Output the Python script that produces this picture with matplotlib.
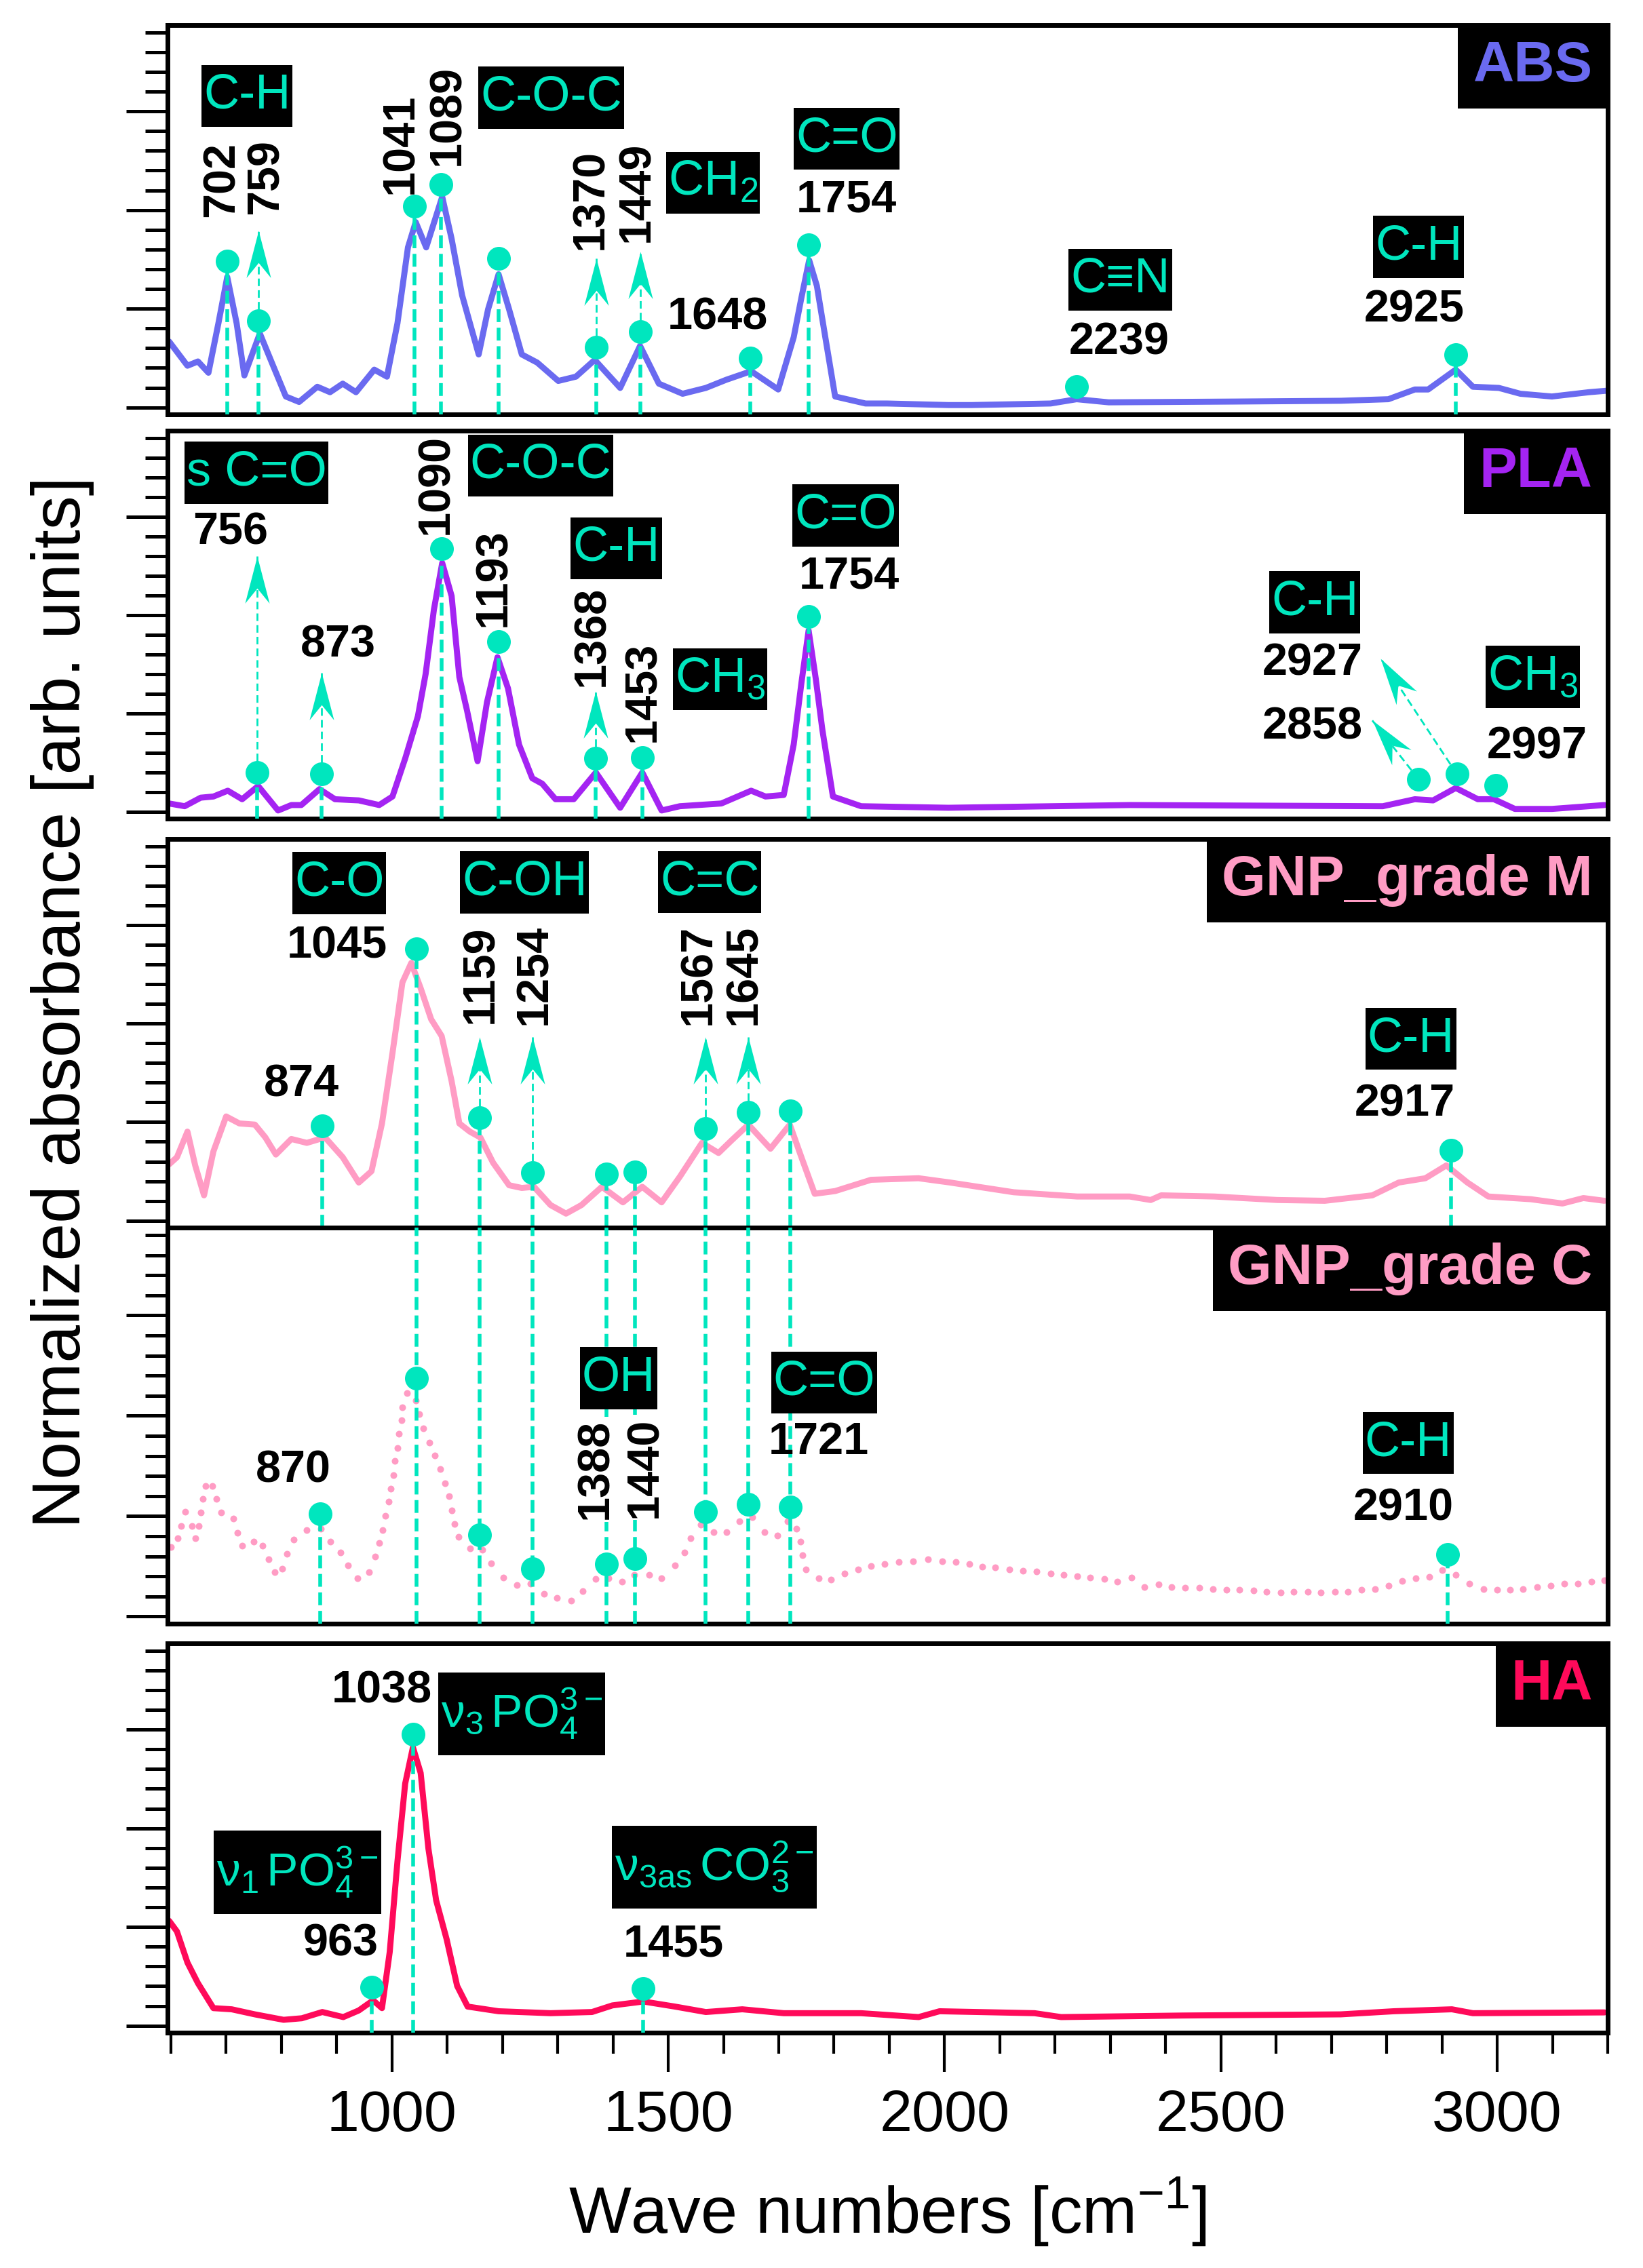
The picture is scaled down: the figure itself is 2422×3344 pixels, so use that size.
import numpy as np
import matplotlib
matplotlib.use("Agg")
import matplotlib.pyplot as plt
from matplotlib.markers import MarkerStyle
from matplotlib.path import Path
from matplotlib.transforms import Affine2D
from matplotlib.ticker import MultipleLocator

plt.rcParams['font.family'] = ['Liberation Sans', 'DejaVu Sans']
plt.rcParams['mathtext.fontset'] = 'custom'
plt.rcParams['mathtext.rm'] = 'Liberation Sans'
plt.rcParams['mathtext.it'] = 'Liberation Sans:italic'
plt.rcParams['mathtext.bf'] = 'Liberation Sans:bold'

# ---------------- spectra (wave number, normalized absorbance as panel fraction)
abs_pts = [(597, 0.187), (630, 0.125), (649, 0.136), (668, 0.107), (686, 0.234), (702, 0.353),
           (719, 0.234), (733, 0.100), (761, 0.208), (785, 0.125), (808, 0.046), (832, 0.032),
           (865, 0.071), (888, 0.057), (911, 0.079), (935, 0.057), (968, 0.115), (991, 0.097),
           (1010, 0.234), (1029, 0.429), (1043, 0.494), (1062, 0.429), (1091, 0.559), (1108, 0.451),
           (1127, 0.306), (1157, 0.154), (1174, 0.270), (1193, 0.360), (1212, 0.270), (1235, 0.154),
           (1263, 0.133), (1301, 0.086), (1333, 0.097), (1367, 0.140), (1413, 0.068), (1449, 0.176),
           (1483, 0.079), (1526, 0.053), (1568, 0.068), (1605, 0.089), (1650, 0.111), (1699, 0.064),
           (1727, 0.198), (1741, 0.300), (1755, 0.396), (1769, 0.330), (1784, 0.200), (1802, 0.046),
           (1857, 0.028), (1896, 0.028), (2007, 0.024), (2049, 0.024), (2192, 0.028), (2239, 0.039),
           (2297, 0.031), (2526, 0.033), (2717, 0.035), (2803, 0.039), (2851, 0.064), (2875, 0.064),
           (2925, 0.115), (2956, 0.071), (3003, 0.068), (3042, 0.053), (3099, 0.046), (3166, 0.057),
           (3200, 0.061)]

pla_pts = [(597, 0.039), (625, 0.032), (654, 0.054), (677, 0.057), (703, 0.072), (729, 0.050),
           (758, 0.084), (794, 0.021), (818, 0.035), (836, 0.035), (869, 0.076), (897, 0.050),
           (940, 0.047), (977, 0.035), (1001, 0.057), (1024, 0.155), (1047, 0.264), (1061, 0.373),
           (1076, 0.539), (1091, 0.659), (1108, 0.574), (1122, 0.365), (1136, 0.278), (1155, 0.148),
           (1172, 0.300), (1191, 0.416), (1210, 0.336), (1230, 0.191), (1254, 0.104), (1272, 0.090),
           (1296, 0.050), (1329, 0.050), (1369, 0.119), (1413, 0.028), (1453, 0.119), (1488, 0.021),
           (1521, 0.032), (1596, 0.039), (1650, 0.072), (1676, 0.057), (1709, 0.061), (1727, 0.191),
           (1741, 0.350), (1754, 0.485), (1767, 0.360), (1779, 0.228), (1798, 0.057), (1849, 0.032),
           (2007, 0.028), (2335, 0.035), (2793, 0.032), (2851, 0.050), (2884, 0.047), (2925, 0.079),
           (2965, 0.050), (2994, 0.050), (3032, 0.025), (3099, 0.025), (3194, 0.035)]

gnpm_pts = [(597, 0.163), (611, 0.181), (630, 0.247), (644, 0.160), (660, 0.083), (677, 0.196),
            (700, 0.286), (724, 0.268), (752, 0.265), (771, 0.232), (790, 0.188), (818, 0.228),
            (846, 0.218), (879, 0.232), (911, 0.181), (940, 0.116), (963, 0.145), (982, 0.268),
            (1001, 0.449), (1019, 0.631), (1035, 0.681), (1052, 0.616), (1071, 0.536), (1090, 0.493),
            (1108, 0.377), (1122, 0.268), (1141, 0.247), (1160, 0.232), (1183, 0.167), (1212, 0.109),
            (1235, 0.102), (1257, 0.105), (1287, 0.058), (1315, 0.036), (1343, 0.058), (1380, 0.105),
            (1418, 0.065), (1453, 0.105), (1488, 0.065), (1521, 0.131), (1561, 0.218), (1591, 0.192),
            (1615, 0.225), (1645, 0.265), (1685, 0.203), (1720, 0.265), (1741, 0.181), (1765, 0.087),
            (1802, 0.094), (1867, 0.123), (1953, 0.127), (2010, 0.116), (2125, 0.091), (2240, 0.080),
            (2335, 0.080), (2373, 0.071), (2392, 0.083), (2488, 0.080), (2602, 0.071), (2688, 0.069),
            (2774, 0.083), (2822, 0.116), (2870, 0.127), (2908, 0.160), (2946, 0.116), (2984, 0.080),
            (3061, 0.073), (3118, 0.062), (3156, 0.076), (3194, 0.069)]

gnpc_pts = [(600, 0.194), (613, 0.215), (619, 0.247), (626, 0.283), (638, 0.247), (644, 0.215),
            (651, 0.247), (654, 0.281), (658, 0.315), (663, 0.347), (675, 0.347), (682, 0.315),
            (691, 0.281), (713, 0.265), (721, 0.229), (729, 0.197), (750, 0.208), (766, 0.197),
            (777, 0.162), (788, 0.130), (802, 0.138), (810, 0.176), (822, 0.212), (846, 0.237),
            (871, 0.240), (888, 0.208), (907, 0.180), (921, 0.147), (938, 0.115), (958, 0.130),
            (970, 0.169), (977, 0.204), (983, 0.237), (988, 0.272), (994, 0.308), (998, 0.340),
            (1003, 0.375), (1005, 0.411), (1010, 0.443), (1013, 0.479), (1017, 0.513), (1019, 0.546),
            (1027, 0.582), (1043, 0.564), (1049, 0.529), (1057, 0.493), (1068, 0.457), (1078, 0.424),
            (1088, 0.390), (1096, 0.354), (1103, 0.322), (1108, 0.286), (1113, 0.252), (1120, 0.219),
            (1141, 0.190), (1163, 0.187), (1179, 0.152), (1202, 0.117), (1226, 0.098), (1251, 0.101),
            (1275, 0.076), (1298, 0.065), (1324, 0.058), (1345, 0.083), (1368, 0.113), (1392, 0.115),
            (1416, 0.106), (1439, 0.124), (1465, 0.124), (1488, 0.115), (1512, 0.147), (1529, 0.180),
            (1540, 0.215), (1559, 0.250), (1582, 0.232), (1605, 0.232), (1629, 0.258), (1652, 0.269),
            (1674, 0.232), (1697, 0.222), (1716, 0.258), (1732, 0.240), (1739, 0.208), (1743, 0.173),
            (1749, 0.137), (1772, 0.114), (1795, 0.112), (1819, 0.126), (1843, 0.137), (1867, 0.145),
            (1891, 0.151), (1917, 0.155), (1943, 0.158), (1970, 0.162), (1996, 0.158), (2020, 0.155),
            (2045, 0.150), (2068, 0.144), (2092, 0.142), (2117, 0.137), (2142, 0.133), (2167, 0.132),
            (2192, 0.127), (2216, 0.124), (2240, 0.120), (2264, 0.117), (2289, 0.113), (2313, 0.107),
            (2338, 0.117), (2362, 0.093), (2388, 0.099), (2411, 0.093), (2435, 0.091), (2461, 0.090),
            (2486, 0.088), (2510, 0.086), (2534, 0.086), (2559, 0.084), (2583, 0.081), (2608, 0.078),
            (2632, 0.081), (2657, 0.081), (2681, 0.078), (2706, 0.081), (2730, 0.081), (2755, 0.086),
            (2779, 0.088), (2803, 0.096), (2828, 0.108), (2853, 0.115), (2877, 0.119), (2901, 0.135),
            (2925, 0.124), (2949, 0.101), (2975, 0.088), (3000, 0.085), (3023, 0.086), (3047, 0.087),
            (3072, 0.092), (3097, 0.096), (3121, 0.101), (3146, 0.101), (3171, 0.106), (3194, 0.110)]

ha_pts = [(597, 0.287), (611, 0.260), (630, 0.180), (649, 0.127), (677, 0.063), (710, 0.060),
          (752, 0.047), (804, 0.033), (837, 0.037), (874, 0.053), (912, 0.040), (940, 0.057),
          (966, 0.083), (982, 0.063), (996, 0.207), (1010, 0.440), (1024, 0.640), (1038, 0.733),
          (1052, 0.667), (1066, 0.473), (1080, 0.340), (1099, 0.240), (1118, 0.120), (1137, 0.067),
          (1193, 0.055), (1287, 0.050), (1362, 0.053), (1399, 0.070), (1455, 0.080), (1512, 0.067),
          (1568, 0.053), (1634, 0.060), (1709, 0.050), (1849, 0.050), (1953, 0.040), (1991, 0.055),
          (2163, 0.050), (2211, 0.040), (2431, 0.044), (2717, 0.047), (2813, 0.055), (2918, 0.060),
          (2956, 0.050), (3194, 0.052)]

# ---------------- peak markers (wave number, marker height)
abs_peaks = [(702, 0.393), (759, 0.241), (1041, 0.534), (1089, 0.591), (1193, 0.400), (1370, 0.172),
             (1449, 0.212), (1648, 0.144), (1754, 0.436), (2239, 0.071), (2925, 0.153)]
pla_peaks = [(756, 0.119), (873, 0.115), (1090, 0.695), (1193, 0.456), (1368, 0.155), (1453, 0.158),
             (1754, 0.521), (2858, 0.101), (2927, 0.115), (2997, 0.086)]
gnpm_peaks = [(874, 0.262), (1045, 0.718), (1159, 0.283), (1254, 0.141), (1388, 0.138), (1440, 0.143),
              (1567, 0.254), (1645, 0.297), (1721, 0.301), (2917, 0.199)]
gnpc_peaks = [(870, 0.278), (1045, 0.620), (1159, 0.224), (1254, 0.138), (1388, 0.151), (1440, 0.164),
              (1567, 0.283), (1645, 0.301), (1721, 0.295), (2910, 0.174)]
ha_peaks = [(963, 0.117), (1038, 0.767), (1455, 0.113)]

# which peaks get a dashed drop line, arrows (peak -> arrow tip)
abs_drop = [702, 759, 1041, 1089, 1193, 1370, 1449, 1648, 1754, 2925]
abs_arrows = [(759, 759, 0.472), (1370, 1370, 0.400), (1449, 1449, 0.418)]
pla_drop = [756, 873, 1090, 1193, 1368, 1453, 1754]
pla_arrows = [(756, 756, 0.677), (873, 873, 0.376), (1368, 1368, 0.329),
              (2858, 2774, 0.253), (2927, 2789, 0.413)]
gnpm_drop = [874, 1045, 1159, 1254, 1388, 1440, 1567, 1645, 1721, 2917]
gnpm_arrows = [(1159, 1159, 0.49), (1254, 1254, 0.49), (1567, 1567, 0.49), (1645, 1645, 0.49)]
shared_lines = [1045, 1159, 1254, 1388, 1440, 1567, 1645, 1721]
gnpc_drop = [870, 2910]
ha_drop = [963, 1038, 1455]

# ---------------- labels (text, x, y, kind)
abs_labels = [("C-H", 738, 0.818, "box"), ("702", 693, 0.604, "v"), ("759", 773, 0.61, "v"),
              ("1041", 1017, 0.696, "v"), ("1089", 1101, 0.768, "v"), ("C-O-C", 1288, 0.814, "box"),
              ("1370", 1360, 0.552, "v"), ("1449", 1444, 0.572, "v"), ("CH$_2$", 1581, 0.595, "box"),
              ("1648", 1589, 0.248, "n"), ("C=O", 1823, 0.708, "box"), ("1754", 1823, 0.550, "n"),
              ("C\u2261N", 2318, 0.346, "box"), ("2239", 2316, 0.183, "n"),
              ("C-H", 2858, 0.430, "box"), ("2925", 2850, 0.268, "n")]
pla_labels = [("s C=O", 755, 0.892, "box"), ("756", 708, 0.737, "n"), ("1090", 1081, 0.862, "v"),
              ("C-O-C", 1269, 0.910, "box"), ("1193", 1185, 0.621, "v"), ("C-H", 1406, 0.697, "box"),
              ("873", 903, 0.447, "n"), ("1368", 1363, 0.470, "v"), ("1453", 1455, 0.328, "v"),
              ("CH$_3$", 1594, 0.359, "box"), ("C=O", 1821, 0.781, "box"), ("1754", 1827, 0.623, "n"),
              ("C-H", 2670, 0.558, "box"), ("2927", 2666, 0.400, "n"), ("2858", 2666, 0.235, "n"),
              ("CH$_3$", 3064, 0.365, "box"), ("2997", 3072, 0.184, "n")]
gnpm_labels = [("C-O", 905, 0.887, "box"), ("1045", 901, 0.723, "n"), ("C-OH", 1240, 0.888, "box"),
               ("1159", 1162, 0.651, "v"), ("1254", 1259, 0.651, "v"), ("C=C", 1575, 0.889, "box"),
               ("1567", 1555, 0.651, "v"), ("1645", 1638, 0.651, "v"), ("874", 836, 0.368, "n"),
               ("C-H", 2844, 0.486, "box"), ("2917", 2833, 0.316, "n")]
gnpc_labels = [("870", 822, 0.386, "n"), ("OH", 1410, 0.620, "box"), ("1388", 1369, 0.390, "vw"),
               ("1440", 1458, 0.394, "vw"), ("C=O", 1782, 0.609, "box"), ("1721", 1772, 0.457, "n"),
               ("C-H", 2839, 0.456, "box"), ("2910", 2830, 0.290, "n")]
ha_labels = [("1038", 982, 0.877, "n"),
             (r"$\mathrm{\nu}_{3}\,\mathrm{PO}_{4}^{3-}$", 1235, 0.819, "bigbox"),
             (r"$\mathrm{\nu}_{1}\,\mathrm{PO}_{4}^{3-}$", 829, 0.412, "bigbox"), ("963", 907, 0.227, "n"),
             (r"$\mathrm{\nu}_{\mathrm{3as}}\,\mathrm{CO}_{3}^{2-}$", 1583, 0.425, "bigbox"),
             ("1455", 1509, 0.225, "n")]

# ---------------- styling
CYAN = "#00E6BE"
C_ABS, C_PLA, C_GNP, C_HA = "#6A6AF0", "#A424F2", "#FF9CC4", "#FF0A5A"

W, H = 2422, 3344
L_PX, R_PX = 247, 2370
XMIN, XMAX = 594, 3200
LW = 3.2

fig = plt.figure(figsize=(W / 200, H / 200), dpi=200)
fig.patch.set_facecolor("white")

head = Path([(0, 0), (-0.26, -1), (0, -0.68), (0.26, -1), (0, 0)],
            [Path.MOVETO, Path.LINETO, Path.LINETO, Path.LINETO, Path.CLOSEPOLY])


def tallbox(padx, pady):
    # rectangle box with separate horizontal / vertical padding (fractions of font size)
    def style(x0, y0, width, height, mutation_size):
        px, py = padx * mutation_size, pady * mutation_size
        x1, y1 = x0 + width + px, y0 + height + py
        x0, y0 = x0 - px, y0 - py
        return Path([(x0, y0), (x1, y0), (x1, y1), (x0, y1), (x0, y0)], closed=True)
    return style


def panel(top, bot):
    ax = fig.add_axes([L_PX / W, 1 - bot / H, (R_PX - L_PX) / W, (bot - top) / H])
    ax.set_xlim(XMIN, XMAX)
    ax.set_ylim(0, 1)
    for s in ax.spines.values():
        s.set_linewidth(2.5)
    ax.yaxis.set_major_locator(MultipleLocator(0.2535, offset=0.018))
    ax.yaxis.set_minor_locator(MultipleLocator(0.0507, offset=0.018))
    ax.tick_params(axis="y", which="major", direction="out", length=22, width=1.8, labelleft=False)
    ax.tick_params(axis="y", which="minor", direction="out", length=12, width=1.8)
    ax.tick_params(axis="x", which="both", bottom=False, labelbottom=False)
    return ax


def title(ax, txt, color):
    ax.annotate(txt, xy=(1, 1), xycoords="axes fraction", xytext=(-8, -8),
                textcoords="offset points", ha="right", va="top", fontsize=30,
                fontweight="bold", color=color, zorder=10,
                bbox=dict(boxstyle="square,pad=0.27", fc="black", ec="none"))


def labels(ax, items):
    for txt, x, y, kind in items:
        if kind == "box":
            ax.text(x, y, txt, ha="center", va="center", fontsize=26, color=CYAN, zorder=8,
                    bbox=dict(boxstyle=tallbox(0.04, 0.17), fc="black", ec="none"))
        elif kind == "bigbox":
            ax.text(x, y, txt, ha="center", va="center", fontsize=25, color=CYAN, zorder=8,
                    bbox=dict(boxstyle=tallbox(0.06, 0.3), fc="black", ec="none"))
        elif kind == "n":
            ax.text(x, y, txt, ha="center", va="center", fontsize=24, fontweight="bold",
                    color="black", zorder=8)
        else:
            kw = {}
            if kind == "vw":
                kw["bbox"] = dict(boxstyle="square,pad=0.05", fc="white", ec="none")
            ax.text(x, y, txt, ha="center", va="center", fontsize=24, fontweight="bold",
                    rotation=90, color="black", zorder=8, **kw)


def drops(ax, peaks, which):
    d = dict(peaks)
    for x in which:
        ax.plot([x, x], [0, d[x]], color=CYAN, lw=2.0, dashes=(3.4, 1.5), zorder=3)


def arrows(ax, peaks, items):
    d = dict(peaks)
    for x0, x1, y1 in items:
        y0 = d[x0]
        ax.plot([x0, x1], [y0, y1], color=CYAN, lw=1.0, dashes=(4, 2.2), zorder=3)
        p0 = ax.transData.transform((x0, y0))
        p1 = ax.transData.transform((x1, y1))
        ang = np.degrees(np.arctan2(p1[1] - p0[1], p1[0] - p0[0])) - 90
        m = MarkerStyle(head, transform=Affine2D().rotate_deg(ang))
        ax.plot([x1], [y1], marker=m, ms=50, color=CYAN, mec="none", ls="none", zorder=4)


def dots(ax, peaks):
    x, y = np.array(peaks).T
    ax.plot(x, y, "o", ms=12.6, color=CYAN, mec="none", zorder=6)


def curve(ax, pts, color):
    x, y = np.array(pts).T
    ax.plot(x, y, color=color, lw=LW, solid_joinstyle="round", solid_capstyle="round", zorder=2)


# ---------------- ABS
ax1 = panel(37, 611)
curve(ax1, abs_pts, C_ABS)
drops(ax1, abs_peaks, abs_drop)
arrows(ax1, abs_peaks, abs_arrows)
dots(ax1, abs_peaks)
labels(ax1, abs_labels)
title(ax1, "ABS", C_ABS)

# ---------------- PLA
ax2 = panel(635, 1207)
curve(ax2, pla_pts, C_PLA)
drops(ax2, pla_peaks, pla_drop)
arrows(ax2, pla_peaks, pla_arrows)
dots(ax2, pla_peaks)
labels(ax2, pla_labels)
title(ax2, "PLA", C_PLA)

# ---------------- GNP grade M
ax3 = panel(1237, 1810)
curve(ax3, gnpm_pts, C_GNP)
drops(ax3, gnpm_peaks, gnpm_drop)
arrows(ax3, gnpm_peaks, gnpm_arrows)
dots(ax3, gnpm_peaks)
labels(ax3, gnpm_labels)
title(ax3, "GNP_grade M", C_GNP)

# ---------------- GNP grade C (dotted data)
ax4 = panel(1810, 2394)
x, y = np.array(gnpc_pts).T
ax4.plot(x, y, "o", ms=3.6, color=C_GNP, mec="none", zorder=2)
for xl in shared_lines:
    ax4.plot([xl, xl], [0, 1], color=CYAN, lw=2.0, dashes=(3.4, 1.5), zorder=3)
drops(ax4, gnpc_peaks, gnpc_drop)
dots(ax4, gnpc_peaks)
labels(ax4, gnpc_labels)
title(ax4, "GNP_grade C", C_GNP)

# ---------------- HA
ax5 = panel(2423, 2997)
curve(ax5, ha_pts, C_HA)
drops(ax5, ha_peaks, ha_drop)
dots(ax5, ha_peaks)
labels(ax5, ha_labels)
title(ax5, "HA", C_HA)

ax5.xaxis.set_major_locator(MultipleLocator(500))
ax5.xaxis.set_minor_locator(MultipleLocator(100))
ax5.tick_params(axis="x", which="major", bottom=True, labelbottom=True, direction="out",
                length=21, width=1.5, pad=9, labelsize=31)
ax5.tick_params(axis="x", which="minor", bottom=True, direction="out", length=11, width=1.5)

fig.text(0.038, 0.558, "Normalized absorbance [arb. units]", rotation=90, ha="center",
         va="center", fontsize=36)
fig.text((L_PX + R_PX) / 2 / W, 0.0245, "Wave numbers [cm$^{-1}$]", ha="center", va="center",
         fontsize=35)

fig.savefig("out.png", dpi=200, facecolor="white")
